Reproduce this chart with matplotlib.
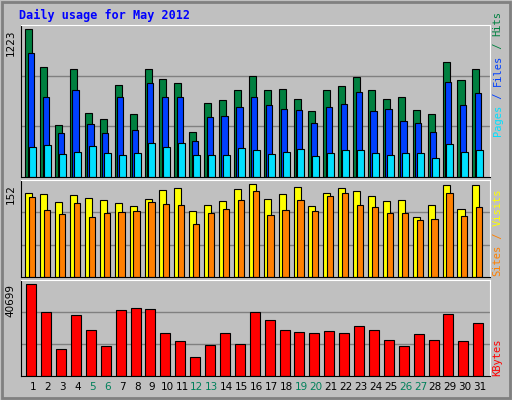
import numpy as np
import matplotlib
matplotlib.use("Agg")
import matplotlib.pyplot as plt
from matplotlib.patches import Rectangle

days = list(range(1, 32))
weekends = [5, 6, 12, 13, 19, 20, 26, 27]

hits = [1223, 913, 434, 891, 534, 484, 766, 526, 899, 816, 783, 376, 617, 634, 725, 833,
        717, 733, 650, 551, 717, 758, 825, 725, 650, 659, 559, 526, 949, 800, 891]
files = [1024, 667, 368, 717, 443, 368, 667, 393, 775, 659, 667, 302, 501, 509, 584, 659,
         600, 567, 559, 451, 576, 609, 708, 551, 567, 468, 451, 376, 791, 600, 692]
pages = [252, 268, 194, 210, 260, 202, 185, 202, 285, 252, 285, 185, 185, 185, 243, 227,
         194, 210, 235, 177, 202, 227, 227, 202, 185, 202, 202, 160, 277, 210, 227]
visits = [137, 135, 122, 134, 129, 126, 121, 116, 127, 142, 145, 107, 117, 124, 144, 152,
          127, 135, 147, 116, 137, 145, 140, 132, 124, 126, 97, 117, 150, 111, 150]
sites = [131, 109, 102, 121, 97, 104, 106, 107, 122, 119, 117, 86, 104, 111, 126, 140,
         101, 109, 126, 107, 132, 137, 117, 114, 104, 104, 93, 94, 137, 99, 114]
kbytes = [40699, 28176, 12075, 26834, 20126, 13417, 29071, 29965, 29518, 18784, 15653,
          8497, 13864, 18784, 14312, 28176, 24598, 20126, 19231, 18784, 19679, 18784,
          21915, 20126, 16101, 13417, 18337, 16101, 27282, 15653, 23256]

BG = "#C0C0C0"
fig = plt.figure(figsize=(5.12, 4.0), dpi=100, facecolor=BG)
fig.add_artist(Rectangle((0.004, 0.004), 0.992, 0.992, transform=fig.transFigure,
                         fill=False, edgecolor="#808080", linewidth=2))
fig.text(0.037, 0.962, "Daily usage for May 2012", color="#0000FF", fontsize=8.5,
         fontweight="bold", family="DejaVu Sans Mono", va="center")

x = np.array(days)


def panel(rect, maxval, frac):
    ax = fig.add_axes(rect)
    ax.set_facecolor(BG)
    top = maxval / frac
    ax.set_ylim(0, top)
    ax.set_xlim(0.2, 31.67)
    for g in (top / 3, 2 * top / 3):
        ax.axhline(g, color="#808080", linewidth=1, zorder=0)
    ax.set_xticks([])
    ax.set_yticks([])
    for s in ax.spines.values():
        s.set_color("black")
    ax.spines["top"].set_color("white")
    ax.spines["right"].set_color("white")
    ax.text(-0.012, maxval / top, str(maxval), transform=ax.transAxes, rotation=90,
            ha="right", va="top", fontsize=7.5)
    return ax


kw = dict(align="edge", edgecolor="black", linewidth=0.8)

ax1 = panel([0.041, 0.5575, 0.916, 0.38], max(hits), 0.971)
ax1.bar(x - 0.51, hits, 0.47, color="#008040", **kw)
ax1.bar(x - 0.35, files, 0.42, color="#0040FF", **kw)
ax1.bar(x - 0.25, pages, 0.47, color="#00E0FF", **kw)

ax2 = panel([0.041, 0.3075, 0.916, 0.2425], max(visits), 0.962)
ax2.bar(x - 0.51, visits, 0.47, color="#FFFF00", **kw)
ax2.bar(x - 0.26, sites, 0.42, color="#FF8000", **kw)

ax3 = panel([0.041, 0.06, 0.916, 0.24], max(kbytes), 0.961)
ax3.bar(x - 0.45, kbytes, 0.67, color="#FF0000", **kw)

for d in days:
    ax3.text(d, -0.06, str(d), transform=ax3.get_xaxis_transform(), ha="center",
             va="top", fontsize=7.5, color="#00805A" if d in weekends else "black")

# right-side legends, chained upward using measured text heights
mono = dict(family="DejaVu Sans Mono", fontsize=7.5, rotation=90, ha="left", va="bottom")
fx = 0.962
renderer = fig.canvas.get_renderer()
for y0, parts in ((0.66, [("Pages", "#00E0FF"), (" / ", "#0040FF"), ("Files", "#0040FF"),
                          (" / ", "#008040"), ("Hits", "#008040")]),
                  (0.31, [("Sites", "#FF8000"), (" / ", "#FF8000"), ("Visits", "#FFFF00")]),
                  (0.06, [("KBytes", "#FF0000")])):
    y = y0
    for txt, col in parts:
        t = fig.text(fx, y, txt.replace(" ", "\u00a0"), color=col, **mono)
        bb = t.get_window_extent(renderer)
        y += bb.height / fig.bbox.height

fig.savefig("out.png", dpi=100, facecolor=BG)
